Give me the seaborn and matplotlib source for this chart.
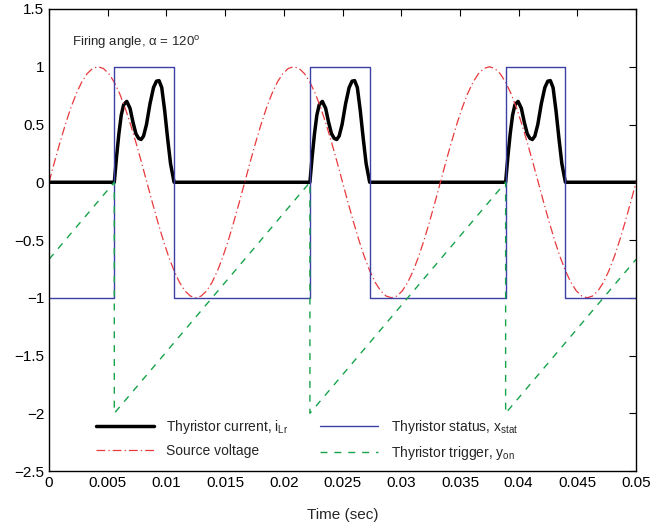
import numpy as np
import pandas as pd
import matplotlib
matplotlib.use('Agg')
import matplotlib.pyplot as plt
import seaborn as sns

# source voltage, sampled every 10 degrees of a 60 Hz wave (3 cycles in 0.05 s)
t_src = np.linspace(0, 0.05, 109)
v_cycle_read = [0, 0.174, 0.342, 0.5, 0.643, 0.766, 0.866, 0.940, 0.985, 1.0,
                0.985, 0.940, 0.866, 0.766, 0.643, 0.5, 0.342, 0.174, 0,
                -0.174, -0.342, -0.5, -0.643, -0.766, -0.866, -0.940, -0.985, -1.0,
                -0.985, -0.940, -0.866, -0.766, -0.643, -0.5, -0.342, -0.174]
v_src = v_cycle_read + v_cycle_read + v_cycle_read + [0]

# thyristor status (switching instants)
t_stat = [0, 0.00556, 0.00556, 0.01065, 0.01065, 0.02222, 0.02222, 0.02731,
          0.02731, 0.03889, 0.03889, 0.04398, 0.04398, 0.05]
x_stat = [-1, -1, 1, 1, -1, -1, 1, 1, -1, -1, 1, 1, -1, -1]

# thyristor trigger ramp
t_trig = [0, 0.00556, 0.00556, 0.02222, 0.02222, 0.03889, 0.03889, 0.05]
y_on = [-0.667, 0, -2, 0, -2, 0, -2, -0.667]

# thyristor current pulse (time after firing, value)
pulse_dt = [0, 0.00019, 0.00039, 0.00059, 0.00079, 0.00106, 0.00134, 0.00159,
            0.00184, 0.00207, 0.00228, 0.00249, 0.00274, 0.00304, 0.00334,
            0.00359, 0.00381, 0.00404, 0.00429, 0.00454, 0.00479, 0.00509]
pulse_i = [0, 0.22, 0.42, 0.58, 0.67, 0.70, 0.64, 0.52, 0.42, 0.38, 0.37,
           0.40, 0.50, 0.68, 0.82, 0.875, 0.88, 0.82, 0.62, 0.38, 0.16, 0]
firing_times = [0.00556, 0.02222, 0.03889]

t_cur = [0.0]
i_cur = [0.0]
for tf in firing_times:
    t_cur += [tf + d for d in pulse_dt]
    i_cur += pulse_i
t_cur.append(0.05)
i_cur.append(0.0)

sns.set_style('white')
plt.rcParams['font.family'] = ['Liberation Sans', 'DejaVu Sans']
plt.rcParams['mathtext.fontset'] = 'custom'
plt.rcParams['mathtext.rm'] = 'Liberation Sans'
plt.rcParams['mathtext.it'] = 'Liberation Sans'

fig = plt.figure(figsize=(6.68, 5.23), dpi=100)
ax = fig.add_axes([0.0734, 0.0994, 0.8788, 0.8834])

sns.lineplot(x=t_cur, y=i_cur, ax=ax, color='black', lw=2.5, sort=False,
             estimator=None, label=r'Thyristor current, $\mathrm{i_{Lr}}$')
sns.lineplot(x=t_src, y=v_src, ax=ax, color='#e8393c', lw=0.9, sort=False,
             estimator=None, label='Source voltage')
ax.lines[-1].set_dashes([7, 2.5, 1, 2.5])
sns.lineplot(x=t_stat, y=x_stat, ax=ax, color='#3b3fa6', lw=1.0, sort=False,
             estimator=None, label=r'Thyristor status, $\mathrm{x_{stat}}$')
sns.lineplot(x=t_trig, y=y_on, ax=ax, color='#17a34a', lw=1.0, sort=False,
             estimator=None, label=r'Thyristor trigger, $\mathrm{y_{on}}$')
ax.lines[-1].set_dashes([5, 5])

ax.set_xlim(0, 0.05)
ax.set_ylim(-2.5, 1.5)
ax.set_xticks(np.arange(0, 0.0501, 0.005))
ax.set_xticklabels(['0', '0.005', '0.01', '0.015', '0.02', '0.025', '0.03',
                    '0.035', '0.04', '0.045', '0.05'])
ax.set_yticks(np.arange(-2.5, 1.51, 0.5))
ax.set_yticklabels(['\u22122.5', '\u22122', '\u22121.5', '\u22121', '\u22120.5',
                    '0', '0.5', '1', '1.5'])
ax.tick_params(direction='in', top=True, right=True, length=5, width=0.8,
               labelsize=11, colors='black')
for s in ax.spines.values():
    s.set_color('black')
    s.set_linewidth(1.0)
ax.set_xlabel('Time (sec)', fontsize=11, labelpad=13)

ax.text(0.00196, 1.21, r'Firing angle, $\alpha$ = 120$^{\mathrm{o}}$',
        fontsize=9.5, va='center', ha='left')

ax.legend(ncol=2, loc='lower left', bbox_to_anchor=(0.058, -0.008), frameon=False,
          fontsize=10, handlelength=4.2, handletextpad=0.9, columnspacing=2.25,
          labelspacing=0.6)

fig.savefig('out.png', dpi=100)
